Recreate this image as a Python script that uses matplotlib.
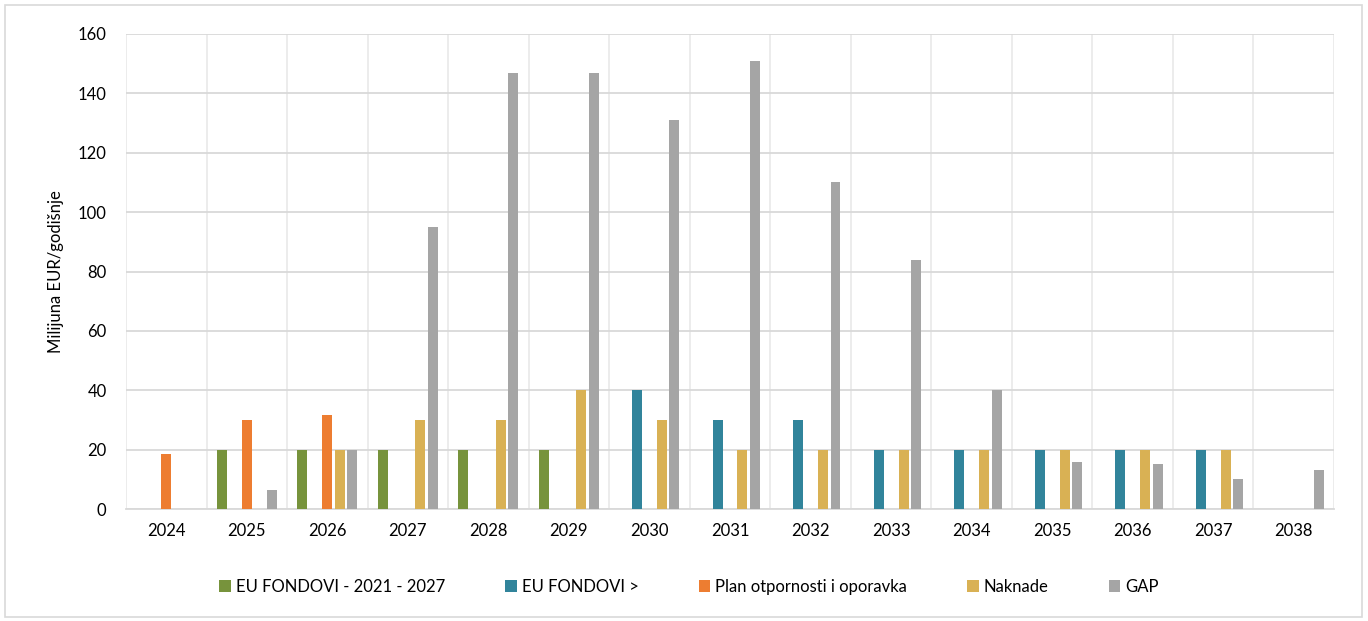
import matplotlib.pyplot as plt
import numpy as np
from matplotlib.patches import Rectangle

plt.rcParams['font.family'] = ['Lato', 'DejaVu Sans']

godine = [str(g) for g in range(2024, 2039)]

eu_2021_2027 = [0, 20, 20, 20, 20, 20, 0, 0, 0, 0, 0, 0, 0, 0, 0]
eu_kasnije = [0, 0, 0, 0, 0, 0, 40, 30, 30, 20, 20, 20, 20, 20, 0]
plan_oporavka = [18.5, 30, 31.5, 0, 0, 0, 0, 0, 0, 0, 0, 0, 0, 0, 0]
naknade = [0, 0, 20, 30, 30, 40, 30, 20, 20, 20, 20, 20, 20, 20, 0]
gap = [0, 6.5, 20, 95, 147, 147, 131, 151, 110, 84, 40, 16, 15, 10, 13]

serije = [
    ("EU FONDOVI - 2021 - 2027", eu_2021_2027, "#77933C"),
    ("EU FONDOVI >", eu_kasnije, "#31849B"),
    ("Plan otpornosti i oporavka", plan_oporavka, "#ED7D31"),
    ("Naknade", naknade, "#D9B154"),
    ("GAP", gap, "#A5A5A5"),
]

fig = plt.figure(figsize=(13.68, 6.21), dpi=100)
ax = fig.add_axes([126 / 1368, 1 - 509 / 621, (1334 - 126) / 1368, (509 - 34) / 621])

# okvir oko cijelog grafikona
fig.patches.append(Rectangle((5 / 1368, 4 / 621), 1357 / 1368, 612 / 621,
                             transform=fig.transFigure, fill=False,
                             edgecolor="#d9d9d9", linewidth=1.2))

x = np.arange(len(godine))
razmak = 0.155
sirina = 0.124
for i, (naziv, vrijednosti, boja) in enumerate(serije):
    ax.bar(x + (i - 2) * razmak, vrijednosti, width=sirina, color=boja,
           label=naziv, zorder=3)

ax.set_xlim(-0.5, len(godine) - 0.5)
ax.set_ylim(0, 160)
ax.set_yticks(range(0, 161, 20))
ax.set_xticks(x)
ax.set_xticklabels(godine)
ax.set_xticks(np.arange(-0.5, len(godine), 1), minor=True)

ax.grid(axis="y", color="#d9d9d9", linewidth=1.3, zorder=0)
ax.grid(axis="x", which="minor", color="#ebebeb", linewidth=1.3, zorder=0)
ax.grid(axis="x", which="major", visible=False)

for s in ["top", "right", "left"]:
    ax.spines[s].set_visible(False)
ax.spines["bottom"].set_color("#d9d9d9")
ax.spines["bottom"].set_linewidth(1.3)

ax.tick_params(axis="both", which="both", length=0, labelsize=12, colors="#000000")
ax.tick_params(axis="x", pad=10)
ax.tick_params(axis="y", pad=14)

ax.set_ylabel("Milijuna EUR/godišnje", fontsize=12, labelpad=10)

fig.legend(*ax.get_legend_handles_labels(), loc="center",
           bbox_to_anchor=(689 / 1368, 1 - 587 / 621), ncol=5, frameon=False,
           fontsize=12, handlelength=0.7, handleheight=0.7, handletextpad=0.3,
           columnspacing=3.6)

fig.savefig("out.png", dpi=100)
